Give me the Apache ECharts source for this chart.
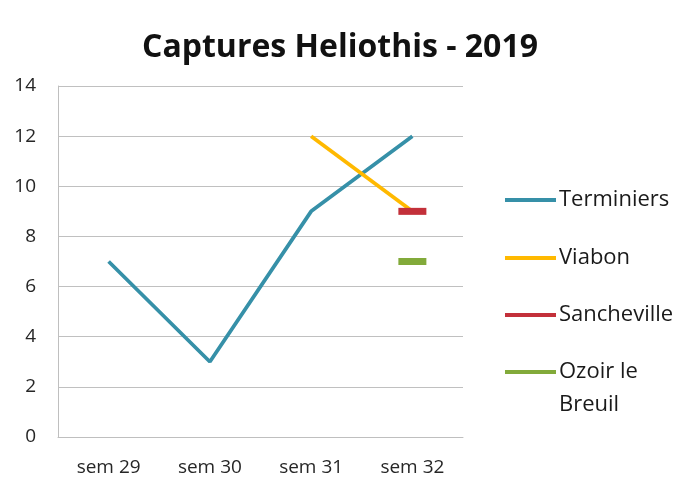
<!DOCTYPE html>
<html><head><meta charset="utf-8">
<script src="https://cdn.jsdelivr.net/npm/echarts@6/dist/echarts.min.js"></script>
<style>html,body{margin:0;padding:0;background:#fff}#c{width:680px;height:477px}</style>
</head><body><div id="c"></div>
<script>
const categories = ['sem 29', 'sem 30', 'sem 31', 'sem 32'];
const terminiers = [7, 3, 9, 12];
const viabon = [null, null, 12, 9];
const sancheville = [null, null, null, 9];
const ozoir = [null, null, null, 7];
const seriesNames = ['Terminiers', 'Viabon', 'Sancheville', 'Ozoir le Breuil'];
const yTicks = { min: 0, max: 14, interval: 2 };

const FONT = '"Open Sans", sans-serif';
const colors = ['#3690a8', '#ffb900', '#c3303a', '#82aa3a'];
const legendTops = [200, 258, 315, 372];

const chart = echarts.init(document.getElementById('c'));
const legends = seriesNames.map((n, i) => ({
  data: [n],
  orient: 'vertical',
  left: 505,
  top: i === 3 ? legendTops[i] - 49.5 : legendTops[i] - 16.5,
  padding: 0,
  icon: 'rect',
  itemWidth: 51,
  itemHeight: 4,
  itemGap: 4,
  formatter: nm => nm === 'Ozoir le Breuil' ? ' \nOzoir le\nBreuil' : nm,
  textStyle: { fontFamily: FONT, fontSize: 22, color: '#1a1a1a', lineHeight: 33, padding: [0, 0, 0, -2] }
}));

chart.setOption({
  animation: false,
  color: colors,
  title: {
    text: 'Captures Heliothis - 2019',
    left: 'center', top: 27,
    textStyle: { fontFamily: FONT, fontSize: 32, fontWeight: 'bold', color: '#111' }
  },
  legend: legends,
  grid: { left: 58, right: 217, top: 86, bottom: 40, containLabel: false },
  xAxis: {
    type: 'category', data: categories, boundaryGap: true,
    axisLine: { lineStyle: { color: '#bfbfbf', width: 1 } },
    axisTick: { show: false },
    axisLabel: { fontFamily: FONT, fontSize: 19, color: '#262626', margin: 21 }
  },
  yAxis: {
    type: 'value', min: yTicks.min, max: yTicks.max, interval: yTicks.interval,
    axisLine: { show: true, lineStyle: { color: '#bfbfbf', width: 1 } },
    axisTick: { show: false },
    splitLine: { lineStyle: { color: '#c0c0c0', width: 1 } },
    axisLabel: { fontFamily: FONT, fontSize: 19, color: '#262626', margin: 22 }
  },
  series: [
    { name: seriesNames[0], type: 'line', data: terminiers, showSymbol: false, symbol: 'none',
      lineStyle: { width: 3.75, color: colors[0] } },
    { name: seriesNames[1], type: 'line', data: viabon, showSymbol: false, symbol: 'none',
      lineStyle: { width: 3.75, color: colors[1] } },
    { name: seriesNames[2], type: 'line', data: sancheville, symbol: 'rect', symbolSize: [28, 7], showSymbol: true,
      itemStyle: { color: colors[2] }, lineStyle: { width: 3.75, color: colors[2] } },
    { name: seriesNames[3], type: 'line', data: ozoir, symbol: 'rect', symbolSize: [28, 7], showSymbol: true,
      itemStyle: { color: colors[3] }, lineStyle: { width: 3.75, color: colors[3] } }
  ]
});
</script></body></html>
